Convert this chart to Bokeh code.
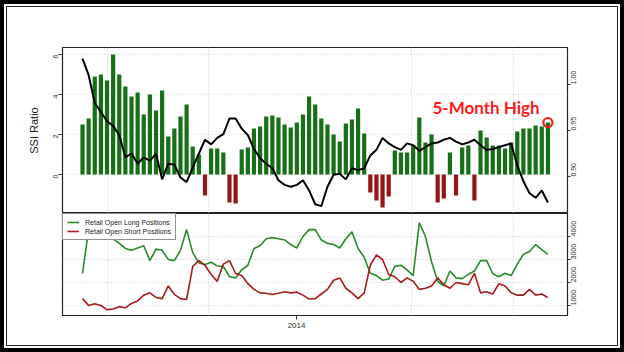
import pandas as pd
from math import pi
from bokeh.plotting import figure
from bokeh.layouts import column
from bokeh.models import (Range1d, LinearAxis, FixedTicker, Label, Legend, LegendItem,
                          DatetimeTickFormatter, NumeralTickFormatter, ColumnDataSource)
from bokeh.embed import file_html
from bokeh.resources import INLINE

# ---------------- data (weekly) ----------------
week_start = pd.date_range("2013-04-29", periods=77, freq="7D")

ssi_ratio = [2.5, 2.8, 4.9, 5.0, 4.7, 6.0, 5.0, 4.4, 3.9, 4.1,
             3.0, 4.0, 3.2, 4.2, 1.9, 2.3, 2.9, 3.5, 1.4, 1.0,
             -1.05, 1.3, 1.3, 1.1, -1.4, -1.45, 1.25, 1.35, 2.3, 2.4,
             2.9, 2.95, 2.85, 2.5, 2.35, 2.6, 3.0, 3.9, 3.5, 2.8,
             2.5, 2.0, 1.65, 2.55, 2.75, 3.3, 2.05, -0.9, -1.3, -1.65,
             -1.1, 1.2, 1.1, 1.1, 1.45, 2.85, 1.6, 2.0, -1.4, -1.2,
             1.1, -1.05, 1.35, 1.45, -1.3, 2.2, 1.85, 1.45, 1.45, 1.3,
             1.6, 2.15, 2.3, 2.3, 2.45, 2.4, 2.6]

audusd = [1.028, 1.010, 0.980, 0.970, 0.960, 0.955, 0.945, 0.921, 0.925, 0.914,
          0.921, 0.917, 0.925, 0.897, 0.914, 0.913, 0.899, 0.894, 0.910, 0.925,
          0.940, 0.935, 0.942, 0.946, 0.963, 0.963, 0.952, 0.945, 0.930, 0.920,
          0.914, 0.909, 0.896, 0.891, 0.889, 0.891, 0.896, 0.885, 0.870, 0.868,
          0.889, 0.902, 0.903, 0.897, 0.909, 0.907, 0.909, 0.923, 0.929, 0.942,
          0.936, 0.932, 0.929, 0.936, 0.934, 0.928, 0.932, 0.936, 0.937, 0.940,
          0.942, 0.938, 0.935, 0.937, 0.940, 0.934, 0.929, 0.930, 0.932, 0.934,
          0.936, 0.912, 0.895, 0.882, 0.877, 0.885, 0.872]

long_orders = [2400, 4300, 4100, 4200, 4000, 3900, 3700, 3480, 3400, 3500,
               3600, 2950, 3450, 3400, 3000, 2950, 3400, 4300, 3300, 2850,
               2780, 2880, 2720, 2700, 2250, 2200, 2550, 2750, 3480, 3600,
               3900, 3950, 3900, 3850, 3650, 3500, 4000, 4300, 4300, 3850,
               3700, 3650, 3500, 3900, 4200, 3480, 3100, 2400, 2300, 2100,
               2150, 2700, 2750, 2550, 2300, 4600, 4000, 2900, 2050, 1850,
               2500, 2200, 2170, 2350, 2500, 2950, 2950, 2380, 2250, 2400,
               2300, 2800, 3230, 3350, 3650, 3430, 3220]

short_orders = [1300, 1000, 1080, 1000, 820, 850, 950, 900, 1090, 1200,
                1450, 1550, 1350, 1300, 1850, 1480, 1300, 1260, 2700, 2950,
                2750, 2350, 2050, 2800, 2950, 2390, 2300, 1950, 1700, 1550,
                1530, 1480, 1530, 1600, 1550, 1580, 1450, 1280, 1300, 1500,
                1700, 2100, 2200, 1750, 1550, 1300, 1550, 2750, 3200, 3000,
                2350, 2250, 2000, 2200, 2050, 1700, 1750, 1850, 2200, 1900,
                1750, 2000, 1950, 1900, 2400, 1550, 1600, 1500, 1950, 1850,
                1550, 1450, 1450, 1700, 1450, 1500, 1340]

year_ticks = [pd.Timestamp("2014-01-01")]
grid_dates = [pd.Timestamp("2013-05-30"), pd.Timestamp("2013-09-22"),
              pd.Timestamp("2014-05-12"), pd.Timestamp("2014-09-06")]
ssi_ticks = [0, 2, 4, 6]
fx_ticks = [0.90, 0.95, 1.00]
order_ticks = [1000, 2000, 3000, 4000]

# ---------------- helpers ----------------
DAY_MS = 86400000


def ms(t):
    return int(t.value // 1_000_000)


x_mid = week_start + pd.Timedelta(days=2.3)
bar_colors = ["#0b670b" if v >= 0 else "#8e0b0b" for v in ssi_ratio]
src = ColumnDataSource(dict(x=x_mid, ssi=ssi_ratio, fx=audusd, lng=long_orders,
                            sht=short_orders, color=bar_colors))

FONT = "Liberation Sans"
GRID_COLOR = "#c8c8c8"


def style_axis(ax, size="7px"):
    ax.axis_line_color = None
    ax.major_tick_line_color = "#333333"
    ax.major_tick_in = 0
    ax.major_tick_out = 4
    ax.minor_tick_line_color = None
    ax.major_label_text_font = FONT
    ax.major_label_text_font_size = size
    ax.major_label_text_color = "#333333"
    ax.major_label_standoff = 3
    ax.axis_label_text_font = FONT
    ax.axis_label_text_font_style = "normal"
    ax.axis_label_text_color = "#222222"


xr = Range1d(pd.Timestamp("2013-04-08 10:00"), pd.Timestamp("2014-11-06 17:00"))

# ---------------- top panel ----------------
p1 = figure(width=610, height=206, x_range=xr, y_range=Range1d(-1.95, 6.35),
            x_axis_type="datetime", x_axis_location=None, y_axis_location="left",
            toolbar_location=None, output_backend="svg",
            min_border_left=55, min_border_right=50, min_border_top=40, min_border_bottom=0)
p1.outline_line_color = "#222222"
p1.outline_line_width = 1.2
p1.background_fill_color = "white"
p1.border_fill_color = "white"

p1.extra_y_ranges = {"fx": Range1d(0.86, 1.04)}

la = p1.yaxis[0]
la.ticker = FixedTicker(ticks=ssi_ticks)
style_axis(la)
la.major_label_orientation = pi / 2
la.axis_label = "SSI Ratio"
la.axis_label_text_font_size = "11px"
la.axis_label_standoff = 8

ra = LinearAxis(y_range_name="fx", ticker=FixedTicker(ticks=fx_ticks),
                formatter=NumeralTickFormatter(format="0.00"))
style_axis(ra)
ra.major_tick_out = 3
ra.major_label_standoff = 3
ra.major_label_orientation = pi / 2
p1.add_layout(ra, "right")

p1.xgrid.ticker = FixedTicker(ticks=[ms(t) for t in grid_dates])
for g in (p1.xgrid, p1.ygrid):
    g.grid_line_color = GRID_COLOR
    g.grid_line_dash = "1 2"
    g.grid_line_width = 1

p1.vbar(x="x", top="ssi", bottom=0, width=4.8 * DAY_MS, source=src,
        fill_color="color", line_color=None, fill_alpha=0.95)
p1.line(x="x", y="fx", source=src, y_range_name="fx", line_color="black", line_width=2)

last = ColumnDataSource(dict(x=[x_mid[-1]], y=[ssi_ratio[-1]]))
p1.scatter(x="x", y="y", source=last, size=9, fill_alpha=0, line_color="#ff1a1a", line_width=2.2)

p1.add_layout(Label(x=30, y=182, x_units="screen", y_units="screen", text="AUD/USD SSI",
                    text_font="Lato", text_font_style="bold", text_font_size="17px",
                    text_color="#111111", text_baseline="middle", text_align="left"))
p1.add_layout(Label(x=338, y=180, x_units="screen", y_units="screen",
                    text="(Retail Sentiment, 10/16/2014)",
                    text_font="Lato", text_font_style="bold", text_font_size="10px",
                    text_color="#111111", text_baseline="middle", text_align="left"))
p1.add_layout(Label(x=370, y=106, x_units="screen", y_units="screen", text="5-Month High",
                    text_font="Lato", text_font_style="bold", text_font_size="17px",
                    text_color="#ff1a1a", text_baseline="middle", text_align="left"))
p1.add_layout(Label(x=533, y=83, x_units="screen", y_units="screen", text="AUDUSD",
                    text_font=FONT, text_font_size="12px", text_color="#222222",
                    text_baseline="middle", text_align="center", angle=pi / 2))

# ---------------- bottom panel ----------------
p2 = figure(width=610, height=132, x_range=xr, y_range=Range1d(565, 5000),
            x_axis_type="datetime", y_axis_location="right",
            toolbar_location=None, output_backend="svg",
            min_border_left=55, min_border_right=50, min_border_top=0, min_border_bottom=30)
p2.outline_line_color = "#222222"
p2.outline_line_width = 1.2
p2.background_fill_color = "white"
p2.border_fill_color = "white"

ba = p2.xaxis[0]
ba.ticker = FixedTicker(ticks=[ms(t) for t in year_ticks])
ba.formatter = DatetimeTickFormatter(
    microseconds="%Y", milliseconds="%Y", seconds="%Y", minsec="%Y", minutes="%Y",
    hourmin="%Y", hours="%Y", days="%Y", months="%Y", years="%Y")
style_axis(ba, size="8px")

oa = p2.yaxis[0]
oa.ticker = FixedTicker(ticks=order_ticks)
style_axis(oa)
oa.major_tick_out = 3
oa.major_label_standoff = 3
oa.major_label_orientation = pi / 2

p2.xgrid.ticker = FixedTicker(ticks=[ms(t) for t in grid_dates])
for g in (p2.xgrid, p2.ygrid):
    g.grid_line_color = GRID_COLOR
    g.grid_line_dash = "1 2"
    g.grid_line_width = 1

r_long = p2.line(x="x", y="lng", source=src, line_color="#2a8a2a", line_width=1.6)
r_short = p2.line(x="x", y="sht", source=src, line_color="#a81c1c", line_width=1.6)

legend = Legend(items=[LegendItem(label="Retail Open Long Positions", renderers=[r_long]),
                       LegendItem(label="Retail Open Short Positions", renderers=[r_short])],
                location="top_left", margin=0, padding=4, spacing=1,
                label_text_font=FONT, label_text_font_size="7px", label_text_color="#222222",
                label_height=8, glyph_height=8, glyph_width=12, label_standoff=6,
                border_line_color="#222222", border_line_width=1,
                background_fill_color="white", background_fill_alpha=1)
p2.add_layout(legend)

p2.add_layout(Label(x=533, y=51, x_units="screen", y_units="screen", text="# of Orders",
                    text_font=FONT, text_font_size="12px", text_color="#222222",
                    text_baseline="middle", text_align="center", angle=pi / 2))

inner = column(p1, p2, styles={"border": "1px solid #222222"})
outer = column(inner, styles={"border": "4px solid black", "padding": "2px",
                              "background-color": "white"})

open("out.html", "w").write(file_html(outer, INLINE))
